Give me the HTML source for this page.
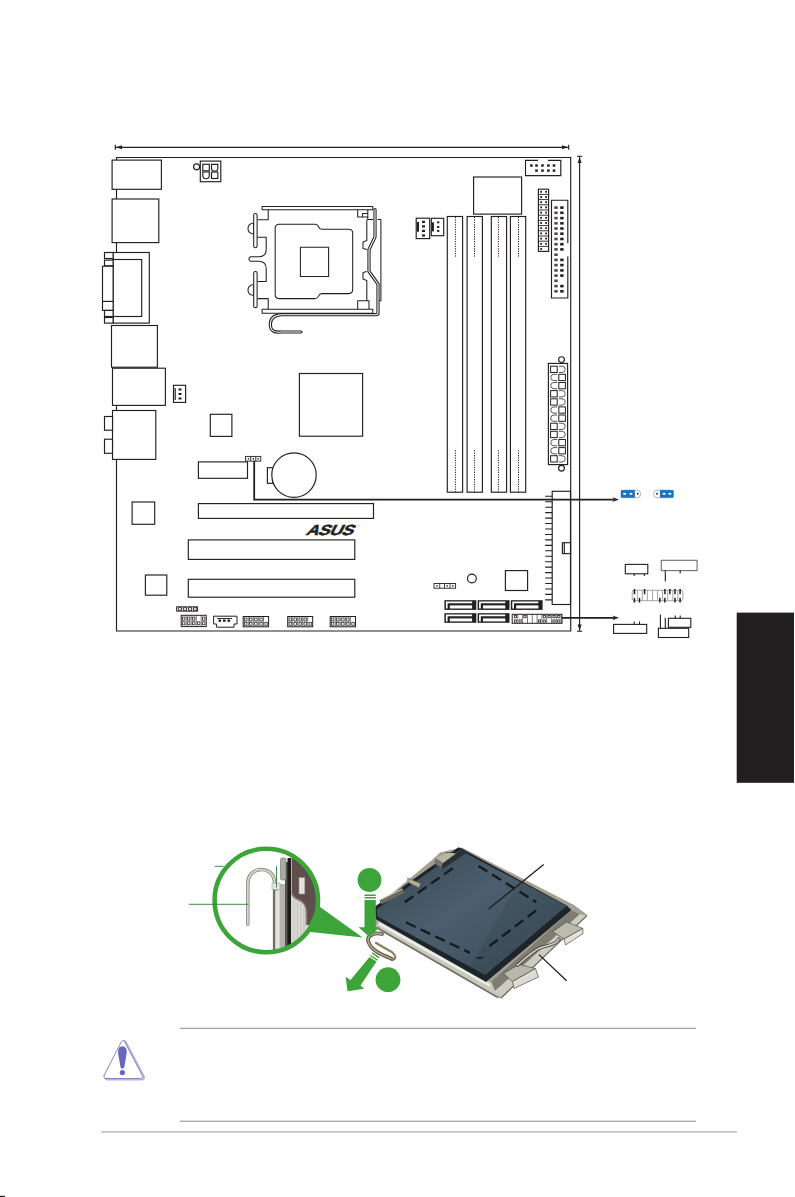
<!DOCTYPE html>
<html><head><meta charset="utf-8"><title>Motherboard layout</title>
<style>
html,body{margin:0;padding:0;background:#fff;}
body{width:795px;height:1197px;overflow:hidden;position:relative;font-family:"Liberation Sans",sans-serif;}
svg{position:absolute;left:0;top:0;display:block;}
</style></head><body>
<svg width="795" height="1197" viewBox="0 0 795 1197">
<g fill="none" stroke="#231f20" stroke-width="1.15">
<path d="M115.3 147.3H568.7M115.3 144.8V149.8M568.7 144.8V149.8"/>
<path d="M579.6 156.2V631.2M577 156.2H582.2M577 631.2H582.2"/>
</g>
<g fill="#231f20" stroke="none">
<path d="M116 147.3L122 145.3V149.3ZM568 147.3L562 145.3V149.3Z"/>
<path d="M579.6 157L577.6 163H581.6ZM579.6 630.5L577.6 624.5H581.6Z"/>
</g>
<g fill="#fff" stroke="#231f20" stroke-width="1.15">
<path fill="none" d="M116.5 160V157.5H570.7V631H116.5V459.4M116.5 189.3V199M116.5 242.6V252.5M116.5 405.4V410.5"/>
<rect x="112.1" y="160.1" width="49.3" height="29.2" />
<rect x="112.1" y="199.0" width="46.7" height="43.6" />
<rect x="113.1" y="252.5" width="36.2" height="70.6" />
<rect x="113.1" y="259.5" width="28.6" height="57.0" />
<rect x="104.5" y="252.5" width="8.6" height="6.0" />
<rect x="104.5" y="260.1" width="8.6" height="5.7" />
<rect x="102.5" y="266.2" width="10.6" height="44.2" />
<path d="M102.5 301.4H113.1"/>
<rect x="104.5" y="310.4" width="8.6" height="6.1" />
<rect x="104.5" y="317.5" width="8.6" height="5.6" />
<rect x="111.5" y="325.5" width="45.9" height="41.7" />
<rect x="112.5" y="368.2" width="52.9" height="37.2" />
<rect x="112.5" y="410.5" width="43.3" height="48.9" />
<rect x="104.5" y="416.5" width="8.0" height="13.7" />
<rect x="104.5" y="439.2" width="8.0" height="14.1" />
<rect x="210.3" y="414.3" width="21.6" height="22.1" />
<rect x="299.4" y="373.5" width="63.2" height="62.7" />
<rect x="132.1" y="502.0" width="22.6" height="22.3" />
<rect x="145.4" y="575.0" width="21.4" height="20.2" />
<rect x="473.6" y="177.0" width="48.0" height="37.1" />
<rect x="505.4" y="570.6" width="22.2" height="19.9" />
<rect x="198.4" y="461.9" width="49.1" height="16.4" />
<rect x="198.4" y="503.6" width="175.1" height="14.8" />
<rect x="188.3" y="539.9" width="166.5" height="19.5" />
<rect x="188.3" y="579.3" width="166.5" height="17.9" />
<rect x="447.3" y="216.5" width="15.3" height="275.7" />
<rect x="467.1" y="216.5" width="15.3" height="275.7" />
<rect x="491.3" y="216.5" width="15.3" height="275.7" />
<rect x="510.4" y="216.5" width="15.3" height="275.7" />
</g>
<g fill="none" stroke="#231f20" stroke-width="1" stroke-dasharray="1.2 1.2">
<path d="M455.4 217V257.6M455.4 450.2V492"/>
<path d="M474.5 217V257.6M474.5 450.2V492"/>
<path d="M498.4 217V257.6M498.4 450.2V492"/>
<path d="M518.5 217V257.6M518.5 450.2V492"/>
</g>
<g fill="#fff" stroke="#231f20" stroke-width="1.15">
<rect x="267.4" y="467.7" width="5.6" height="15.6" />
<circle cx="294" cy="475.1" r="22.2"/>
<circle cx="471.9" cy="578.5" r="4.4"/>
<circle cx="196.6" cy="166.8" r="3"/>
<rect x="200.3" y="161.1" width="20.5" height="20.6" />
<rect x="202.8" y="164.3" width="6.5" height="6.5" />
<rect x="211.5" y="172.0" width="6.3" height="6.5" />
<path d="M211.5 164.3H217.8V168a3.1 3.1 0 0 1-6.3 0Z"/>
<path d="M202.8 172H209.3V175.5a3.2 3.2 0 0 1-6.5 0Z"/>
<rect x="173.5" y="385.3" width="12.1" height="17.1" />
<rect x="416.2" y="218.2" width="13.5" height="20.4" />
<rect x="431.3" y="218.3" width="12.4" height="17.4" />
<path d="M538 160.4H525.5V175.6H560.8V160.4H548"/>
<rect x="538.4" y="189.2" width="10.2" height="62.2" />
<path d="M567.8 243.2V200.2H551.5V298H567.8V256.4"/>
<circle cx="561.5" cy="359.6" r="2.9"/>
<circle cx="561.5" cy="468.3" r="2.9"/>
<rect x="548.4" y="363.4" width="19.2" height="101.2" />
<rect x="552.2" y="491.3" width="18.3" height="113.2" />
<rect x="562.4" y="542.7" width="8.1" height="10.9" />
<path d="M564.3 542.7V553.6"/>
</g>
<g fill="none" stroke="#231f20" stroke-width="1.1">
<path d="M545.2 496.3H552.2M545.2 501.8H552.2M545.2 507.2H552.2M545.2 512.6H552.2M545.2 518.1H552.2M545.2 523.5H552.2M545.2 529.0H552.2M545.2 534.5H552.2M545.2 539.9H552.2M545.2 545.4H552.2M545.2 550.8H552.2M545.2 556.2H552.2M545.2 561.7H552.2M545.2 567.1H552.2M545.2 572.6H552.2M545.2 578.0H552.2M545.2 583.5H552.2M545.2 589.0H552.2M545.2 594.4H552.2M545.2 599.9H552.2"/>
</g>
<g fill="#fff" stroke="#231f20" stroke-width="1">
<rect x="550.6" y="366.2" width="6.6" height="6.3" />
<path stroke="#555" d="M558.8 366.2H562.1a3.15 3.15 0 0 1 0 6.3H558.8" />
<path stroke="#555" d="M557.2 374.3H553.9a3.15 3.15 0 0 0 0 6.3H557.2" />
<rect x="558.8" y="374.3" width="6.6" height="6.3" />
<path stroke="#555" d="M557.2 382.5H553.9a3.15 3.15 0 0 0 0 6.3H557.2" />
<rect x="558.8" y="382.5" width="6.6" height="6.3" />
<rect x="550.6" y="390.6" width="6.6" height="6.3" />
<path stroke="#555" d="M558.8 390.6H562.1a3.15 3.15 0 0 1 0 6.3H558.8" />
<rect x="550.6" y="398.8" width="6.6" height="6.3" />
<path stroke="#555" d="M558.8 398.8H562.1a3.15 3.15 0 0 1 0 6.3H558.8" />
<path stroke="#555" d="M557.2 406.9H553.9a3.15 3.15 0 0 0 0 6.3H557.2" />
<rect x="558.8" y="406.9" width="6.6" height="6.3" />
<path stroke="#555" d="M557.2 415.0H553.9a3.15 3.15 0 0 0 0 6.3H557.2" />
<rect x="558.8" y="415.0" width="6.6" height="6.3" />
<rect x="550.6" y="423.2" width="6.6" height="6.3" />
<path stroke="#555" d="M558.8 423.2H562.1a3.15 3.15 0 0 1 0 6.3H558.8" />
<rect x="550.6" y="431.3" width="6.6" height="6.3" />
<path stroke="#555" d="M558.8 431.3H562.1a3.15 3.15 0 0 1 0 6.3H558.8" />
<path stroke="#555" d="M557.2 439.5H553.9a3.15 3.15 0 0 0 0 6.3H557.2" />
<rect x="558.8" y="439.5" width="6.6" height="6.3" />
<path stroke="#555" d="M557.2 447.6H553.9a3.15 3.15 0 0 0 0 6.3H557.2" />
<rect x="558.8" y="447.6" width="6.6" height="6.3" />
<rect x="550.6" y="455.7" width="6.6" height="6.3" />
<path stroke="#555" d="M558.8 455.7H562.1a3.15 3.15 0 0 1 0 6.3H558.8" />
</g>
<g fill="#231f20" stroke="none">
<rect x="530.1" y="164.3" width="2.6" height="2.4" />
<rect x="535.2" y="164.3" width="2.6" height="2.4" />
<rect x="535.2" y="169.4" width="2.6" height="2.4" />
<rect x="541.2" y="164.3" width="2.6" height="2.4" />
<rect x="541.2" y="169.4" width="2.6" height="2.4" />
<rect x="547.1" y="164.3" width="2.6" height="2.4" />
<rect x="547.1" y="169.4" width="2.6" height="2.4" />
<rect x="552.7" y="164.3" width="2.6" height="2.4" />
<rect x="552.7" y="169.4" width="2.6" height="2.4" />
<rect x="554.3" y="206.3" width="3.4" height="2.6" fill="#4a4a4a"/>
<rect x="560.2" y="206.3" width="3.4" height="2.6" />
<rect x="554.3" y="211.5" width="3.4" height="2.6" fill="#4a4a4a"/>
<rect x="560.2" y="211.5" width="3.4" height="2.6" />
<rect x="554.3" y="216.8" width="3.4" height="2.6" fill="#4a4a4a"/>
<rect x="560.2" y="216.8" width="3.4" height="2.6" />
<rect x="554.3" y="222.0" width="3.4" height="2.6" fill="#4a4a4a"/>
<rect x="560.2" y="222.0" width="3.4" height="2.6" />
<rect x="554.3" y="227.2" width="3.4" height="2.6" fill="#4a4a4a"/>
<rect x="560.2" y="227.2" width="3.4" height="2.6" />
<rect x="554.3" y="232.4" width="3.4" height="2.6" fill="#4a4a4a"/>
<rect x="560.2" y="232.4" width="3.4" height="2.6" />
<rect x="554.3" y="237.7" width="3.4" height="2.6" fill="#4a4a4a"/>
<rect x="560.2" y="237.7" width="3.4" height="2.6" />
<rect x="554.3" y="242.9" width="3.4" height="2.6" fill="#4a4a4a"/>
<rect x="560.2" y="242.9" width="3.4" height="2.6" />
<rect x="554.3" y="248.1" width="3.4" height="2.6" fill="#4a4a4a"/>
<rect x="560.2" y="248.1" width="3.4" height="2.6" />
<rect x="554.3" y="253.4" width="3.4" height="2.6" fill="#4a4a4a"/>
<rect x="554.3" y="258.6" width="3.4" height="2.6" fill="#4a4a4a"/>
<rect x="560.2" y="258.6" width="3.4" height="2.6" />
<rect x="554.3" y="263.8" width="3.4" height="2.6" fill="#4a4a4a"/>
<rect x="560.2" y="263.8" width="3.4" height="2.6" />
<rect x="554.3" y="269.1" width="3.4" height="2.6" fill="#4a4a4a"/>
<rect x="560.2" y="269.1" width="3.4" height="2.6" />
<rect x="554.3" y="274.3" width="3.4" height="2.6" fill="#4a4a4a"/>
<rect x="560.2" y="274.3" width="3.4" height="2.6" />
<rect x="554.3" y="279.5" width="3.4" height="2.6" fill="#4a4a4a"/>
<rect x="554.3" y="284.8" width="3.4" height="2.6" fill="#4a4a4a"/>
<rect x="560.2" y="284.8" width="3.4" height="2.6" />
<rect x="554.3" y="290.0" width="3.4" height="2.6" fill="#4a4a4a"/>
<rect x="560.2" y="290.0" width="3.4" height="2.6" />
<rect x="422.0" y="220.8" width="3.0" height="2.2" />
<rect x="422.0" y="225.3" width="3.0" height="2.2" />
<rect x="422.0" y="229.8" width="3.0" height="2.2" />
<rect x="422.0" y="234.4" width="3.0" height="2.2" />
<rect x="416.8" y="222.0" width="2.2" height="9.7" />
<rect x="437.1" y="221.3" width="2.2" height="2.0" />
<rect x="437.1" y="226.0" width="2.2" height="2.0" />
<rect x="437.1" y="229.9" width="2.2" height="2.0" />
<rect x="431.7" y="222.3" width="2.2" height="9.1" />
<rect x="178.5" y="388.5" width="3.0" height="2.0" />
<rect x="178.5" y="393.0" width="3.0" height="2.0" />
<rect x="178.5" y="397.5" width="3.0" height="2.0" />
<rect x="174.6" y="388.0" width="1.2" height="12.0" />
</g>
<path d="M538.4 194.4H548.6M538.4 199.6H548.6M538.4 204.8H548.6M538.4 210.0H548.6M538.4 215.2H548.6M538.4 220.4H548.6M538.4 225.6H548.6M538.4 230.8H548.6M538.4 236.0H548.6M538.4 241.2H548.6M538.4 246.4H548.6" fill="none" stroke="#231f20" stroke-width="0.9"/>
<g fill="#231f20">
<rect x="540.2" y="190.9" width="1.8" height="1.8" />
<rect x="545.2" y="190.9" width="1.8" height="1.8" />
<rect x="540.2" y="196.1" width="1.8" height="1.8" />
<rect x="545.2" y="196.1" width="1.8" height="1.8" />
<rect x="540.2" y="201.3" width="1.8" height="1.8" />
<rect x="545.2" y="201.3" width="1.8" height="1.8" />
<rect x="540.2" y="206.5" width="1.8" height="1.8" />
<rect x="545.2" y="206.5" width="1.8" height="1.8" />
<rect x="540.2" y="211.7" width="1.8" height="1.8" />
<rect x="545.2" y="211.7" width="1.8" height="1.8" />
<rect x="540.2" y="216.9" width="1.8" height="1.8" />
<rect x="545.2" y="216.9" width="1.8" height="1.8" />
<rect x="540.2" y="222.1" width="1.8" height="1.8" />
<rect x="545.2" y="222.1" width="1.8" height="1.8" />
<rect x="540.2" y="227.3" width="1.8" height="1.8" />
<rect x="545.2" y="227.3" width="1.8" height="1.8" />
<rect x="540.2" y="232.5" width="1.8" height="1.8" />
<rect x="545.2" y="232.5" width="1.8" height="1.8" />
<rect x="540.2" y="237.7" width="1.8" height="1.8" />
<rect x="545.2" y="237.7" width="1.8" height="1.8" />
<rect x="540.2" y="242.9" width="1.8" height="1.8" />
<rect x="545.2" y="242.9" width="1.8" height="1.8" />
<rect x="540.2" y="248.1" width="1.8" height="1.8" />
</g>
<g fill="#fff" stroke="#231f20" stroke-width="1">
<rect x="181.2" y="615.3" width="25.0" height="11.3" />
</g><g fill="#fff" stroke="#231f20" stroke-width="0.75">
<path d="M186.2 615.3V626.6M191.2 615.3V626.6M196.2 615.3V626.6M201.2 615.3V626.6" stroke-width="0.6"/>
<rect x="182.5" y="617.1" width="2.4" height="3.0" />
<rect x="182.5" y="621.8" width="2.4" height="3.0" />
<rect x="187.5" y="617.1" width="2.4" height="3.0" />
<rect x="187.5" y="621.8" width="2.4" height="3.0" />
<rect x="192.5" y="617.1" width="2.4" height="3.0" />
<rect x="192.5" y="621.8" width="2.4" height="3.0" />
<rect x="197.5" y="621.8" width="2.4" height="3.0" />
<rect x="202.5" y="617.1" width="2.4" height="3.0" />
<rect x="202.5" y="621.8" width="2.4" height="3.0" />
</g>
<g fill="#fff" stroke="#231f20" stroke-width="1">
<rect x="243.2" y="616.5" width="25.4" height="10.3" />
</g><g fill="#fff" stroke="#231f20" stroke-width="0.75">
<path d="M248.3 616.5V626.8M253.4 616.5V626.8M258.4 616.5V626.8M263.5 616.5V626.8" stroke-width="0.6"/>
<rect x="244.5" y="618.0" width="2.4" height="3.0" />
<rect x="244.5" y="622.3" width="2.4" height="3.0" />
<rect x="249.6" y="618.0" width="2.4" height="3.0" />
<rect x="249.6" y="622.3" width="2.4" height="3.0" />
<rect x="254.7" y="618.0" width="2.4" height="3.0" />
<rect x="254.7" y="622.3" width="2.4" height="3.0" />
<rect x="259.8" y="618.0" width="2.4" height="3.0" />
<rect x="259.8" y="622.3" width="2.4" height="3.0" />
<rect x="264.9" y="622.3" width="2.4" height="3.0" />
</g>
<g fill="#fff" stroke="#231f20" stroke-width="1">
<rect x="287.7" y="616.5" width="25.0" height="10.3" />
</g><g fill="#fff" stroke="#231f20" stroke-width="0.75">
<path d="M292.7 616.5V626.8M297.7 616.5V626.8M302.7 616.5V626.8M307.7 616.5V626.8" stroke-width="0.6"/>
<rect x="289.0" y="618.0" width="2.4" height="3.0" />
<rect x="289.0" y="622.3" width="2.4" height="3.0" />
<rect x="294.0" y="618.0" width="2.4" height="3.0" />
<rect x="294.0" y="622.3" width="2.4" height="3.0" />
<rect x="299.0" y="618.0" width="2.4" height="3.0" />
<rect x="299.0" y="622.3" width="2.4" height="3.0" />
<rect x="304.0" y="618.0" width="2.4" height="3.0" />
<rect x="304.0" y="622.3" width="2.4" height="3.0" />
<rect x="309.0" y="622.3" width="2.4" height="3.0" />
</g>
<g fill="#fff" stroke="#231f20" stroke-width="1">
<rect x="330.2" y="616.5" width="25.3" height="10.3" />
</g><g fill="#fff" stroke="#231f20" stroke-width="0.75">
<path d="M335.3 616.5V626.8M340.3 616.5V626.8M345.4 616.5V626.8M350.4 616.5V626.8" stroke-width="0.6"/>
<rect x="331.5" y="618.0" width="2.4" height="3.0" />
<rect x="331.5" y="622.3" width="2.4" height="3.0" />
<rect x="336.6" y="618.0" width="2.4" height="3.0" />
<rect x="336.6" y="622.3" width="2.4" height="3.0" />
<rect x="341.7" y="618.0" width="2.4" height="3.0" />
<rect x="341.7" y="622.3" width="2.4" height="3.0" />
<rect x="346.7" y="618.0" width="2.4" height="3.0" />
<rect x="346.7" y="622.3" width="2.4" height="3.0" />
<rect x="351.8" y="622.3" width="2.4" height="3.0" />
</g>
<g fill="#fff" stroke="#231f20" stroke-width="0.9">
<rect x="176.6" y="606.8" width="21.0" height="4.4" />
<rect x="178.2" y="607.7" width="3.3" height="2.6" />
<rect x="183.3" y="607.7" width="3.3" height="2.6" />
<rect x="188.4" y="607.7" width="3.3" height="2.6" />
<rect x="193.5" y="607.7" width="3.3" height="2.6" />
<rect x="245.6" y="456.4" width="15.2" height="4.7" />
<path d="M250.7 456.4V461.1M255.8 456.4V461.1"/>
<rect x="434.0" y="583.5" width="21.6" height="4.7" />
</g>
<g fill="#231f20">
<rect x="247.8" y="458.1" width="1.4" height="1.4" />
<rect x="252.7" y="458.1" width="1.4" height="1.4" />
<rect x="257.6" y="458.1" width="1.4" height="1.4" />
<path d="M439.7 583.5V588.2M444.5 583.5V588.2M450 583.5V588.2" stroke="#231f20" stroke-width="0.8" fill="none"/>
<rect x="436.3" y="585.1" width="1.4" height="1.4" />
<rect x="446.5" y="585.1" width="1.4" height="1.4" />
<rect x="452.1" y="585.1" width="1.4" height="1.4" />
</g>
<g fill="#fff" stroke="#231f20" stroke-width="1">
<path d="M213.6 616.2H237V624H234V627.2H216.6V624H213.6Z"/>
</g><g fill="#231f20">
<rect x="218.5" y="619.5" width="2.6" height="2.3" />
<rect x="223.0" y="619.5" width="2.6" height="2.3" />
<rect x="227.5" y="619.5" width="2.6" height="2.3" />
<rect x="217.0" y="618.0" width="15.0" height="0.9" />
</g>
<rect x="444.4" y="600.2" width="31.9" height="9.7" fill="#231f20"/>
<path fill="#fff" d="M445.9 601.5H472.1V603.3H447.6V608.6H445.9Z"/>
<rect x="449.8" y="605.4" width="22.3" height="3.1" fill="#fff"/>
<rect x="477.6" y="600.2" width="31.9" height="9.7" fill="#231f20"/>
<path fill="#fff" d="M479.1 601.5H505.3V603.3H480.8V608.6H479.1Z"/>
<rect x="483.0" y="605.4" width="22.3" height="3.1" fill="#fff"/>
<rect x="510.8" y="600.2" width="31.8" height="9.7" fill="#231f20"/>
<path fill="#fff" d="M512.3 601.5H538.4V603.3H514.0V608.6H512.3Z"/>
<rect x="516.2" y="605.4" width="22.2" height="3.1" fill="#fff"/>
<rect x="444.4" y="613.2" width="31.9" height="9.6" fill="#231f20"/>
<path fill="#fff" d="M445.9 614.5H472.1V616.3H447.6V621.5H445.9Z"/>
<rect x="449.8" y="618.4" width="22.3" height="3.0" fill="#fff"/>
<rect x="477.6" y="613.2" width="31.9" height="9.6" fill="#231f20"/>
<path fill="#fff" d="M479.1 614.5H505.3V616.3H480.8V621.5H479.1Z"/>
<rect x="483.0" y="618.4" width="22.3" height="3.0" fill="#fff"/>
<g fill="#fff" stroke="#231f20" stroke-width="1">
<rect x="512.2" y="614.3" width="49.8" height="9.0" />
</g><g fill="#fff" stroke="#231f20" stroke-width="0.8">
<path d="M517.8 614.3V623.3" stroke-width="0.6"/>
<rect x="514.3" y="615.5" width="2.2" height="2.2" />
<rect x="514.3" y="619.9" width="2.2" height="2.2" />
<path d="M522.6 614.3V623.3" stroke-width="0.6"/>
<rect x="519.1" y="619.9" width="2.2" height="2.2" />
<path d="M527.5 614.3V623.3" stroke-width="0.6"/>
<rect x="523.9" y="615.5" width="2.2" height="2.2" />
<path d="M532.3 614.3V623.3" stroke-width="0.6"/>
<path d="M537.1 614.3V623.3" stroke-width="0.6"/>
<path d="M541.9 614.3V623.3" stroke-width="0.6"/>
<rect x="538.4" y="619.9" width="2.2" height="2.2" />
<path d="M546.7 614.3V623.3" stroke-width="0.6"/>
<rect x="543.2" y="615.5" width="2.2" height="2.2" />
<rect x="543.2" y="619.9" width="2.2" height="2.2" />
<path d="M551.6 614.3V623.3" stroke-width="0.6"/>
<rect x="548.0" y="615.5" width="2.2" height="2.2" />
<path d="M556.4 614.3V623.3" stroke-width="0.6"/>
<rect x="552.9" y="615.5" width="2.2" height="2.2" />
<rect x="552.9" y="619.9" width="2.2" height="2.2" />
<path d="M561.2 614.3V623.3" stroke-width="0.6"/>
<rect x="557.7" y="615.5" width="2.2" height="2.2" />
<rect x="557.7" y="619.9" width="2.2" height="2.2" />
</g>
<g fill="none" stroke="#231f20" stroke-width="1.8">
<path d="M254.2 461.1V499.6H614"/>
<path d="M562 617.8H614"/>
</g><g fill="#231f20">
<path d="M619 499.6L612.4 497.2L614.4 499.6L612.4 502Z"/>
<path d="M619 617.8L612.4 615.4L614.4 617.8L612.4 620.2Z"/>
</g>
<g>
<rect x="620.9" y="490.1" width="19.7" height="7.6" rx="3.6" fill="#fff" stroke="#8a939c" stroke-width="0.7"/>
<rect x="620.9" y="490.1" width="14.0" height="7.6" fill="#1f72b8"/>
<rect x="623.3" y="492.9" width="2.7" height="1.8" fill="#fff"/>
<rect x="629.6" y="492.9" width="2.7" height="1.8" fill="#fff"/>
<rect x="636.9" y="493.0" width="1.6" height="1.6" fill="#231f20"/>
<rect x="653.6" y="490.1" width="20" height="7.6" rx="3.6" fill="#fff" stroke="#8a939c" stroke-width="0.7"/>
<rect x="660.0" y="490.1" width="13.6" height="7.6" fill="#1f72b8"/>
<rect x="662.7" y="492.9" width="2.7" height="1.8" fill="#fff"/>
<rect x="668.5" y="492.9" width="2.7" height="1.8" fill="#fff"/>
<rect x="656.2" y="493.0" width="1.6" height="1.6" fill="#231f20"/>
</g>
<g fill="#fff" stroke="#231f20" stroke-width="1.1">
<rect x="625.3" y="564.4" width="22.5" height="9.4" />
<path d="M634.2 573.8V576M644.3 573.8V576"/>
<rect x="661.3" y="560.3" width="35.8" height="10.3" stroke="#6d6e71"/>
<path d="M665.3 570.6V581.4M680.2 570.6V573.5"/>
<rect x="613.6" y="624.4" width="33.1" height="9.0" />
<path d="M634.2 621.4V624.4M639.5 621.4V624.4"/>
<path d="M660.4 614.5V628.3M665.3 618V628.3M675.3 615.4V618.3M680.2 615.4V618.3"/>
<rect x="668.4" y="618.3" width="22.4" height="9.0" />
<rect x="658.4" y="628.3" width="30.3" height="9.2" />
</g>
<g fill="#fff" stroke="#8c8e91" stroke-width="0.8">
<rect x="632.2" y="590.3" width="50.7" height="10.4" rx="2.2"/>
<path d="M637.3 590.3V600.7"/>
<path d="M642.3 590.3V600.7"/>
<path d="M647.4 590.3V600.7"/>
<path d="M652.5 590.3V600.7"/>
<path d="M657.6 590.3V600.7"/>
<path d="M662.6 590.3V600.7"/>
<path d="M667.7 590.3V600.7"/>
<path d="M672.8 590.3V600.7"/>
<path d="M677.8 590.3V600.7"/>
</g><g fill="none" stroke="#231f20" stroke-width="1.5">
<path d="M634.4 589V594.3"/>
<path d="M634.4 597.8V602.6"/>
<path d="M639.5 597.8V602.6"/>
<path d="M644.6 589V594.3"/>
<path d="M659.8 597.8V602.6"/>
<path d="M664.9 589V594.3"/>
<path d="M664.9 597.8V602.6"/>
<path d="M669.9 589V594.3"/>
<path d="M675.0 589V594.3"/>
<path d="M675.0 597.8V602.6"/>
<path d="M680.1 589V594.3"/>
<path d="M680.1 597.8V602.6"/>
</g>
<rect x="736.7" y="612.6" width="57.3" height="170.2" fill="#231f20"/>
<rect x="0.0" y="1195.8" width="5.0" height="1.2" fill="#231f20"/>
<path d="M180 1028.3H696" stroke="#8c8c8c" stroke-width="1" fill="none"/>
<path d="M180 1121.2H696" stroke="#8c8c8c" stroke-width="1" fill="none"/>
<path d="M101.2 1131.8H737" stroke="#c6c6c6" stroke-width="1.8" fill="none"/>
<g>
<path d="M121.5 1041.5L104 1075.5Q103 1078.3 106 1078.5H140.5Q143.5 1078.3 142.3 1075.5L124.5 1041.5Q123 1039.3 121.5 1041.5Z" fill="#fff" stroke="#b9b6e0" stroke-width="2.2" transform="translate(1.3,0.8)"/>
<path d="M121.5 1041.5L104 1075.5Q103 1078.3 106 1078.5H140.5Q143.5 1078.3 142.3 1075.5L124.5 1041.5Q123 1039.3 121.5 1041.5Z" fill="#fff" stroke="#7d79b8" stroke-width="0.9"/>
<path d="M122.4 1046.2c-3.3 0-4.6 3.2-4.3 7l2.400 13.800c.4 2 3.400 2 3.800 0l2.400-13.800c.3-3.800-1-7-4.300-7Z" fill="#6a66bb"/>
<circle cx="122.400" cy="1072.500" r="2.600" fill="#6a66bb"/>
</g>
<g fill="none" stroke="#231f20" stroke-width="1.05" stroke-linejoin="round">
<!-- far right line -->
<path d="M377.500 219.500H380.900V300.700H377.500"/>
<!-- frame body left -->
<path d="M268.200 209.700V219.700H257.500M257.500 237.300H266.200V249.500Q266.200 256.200 259.500 256.800H250.500Q247.300 259 250.500 261.300H259.500Q266.200 262 266.200 268.500V281.500H257.500M257.500 298.600H268.200V309.300"/>
<!-- right side -->
<path d="M367.800 209.700V219.500H373M366.800 219.500V240.500L363 242V248.500L367 249.500M366.800 271.500L363 272.500V279L366.800 280.500V300.700M357.700 209.700V217H367.800M362.500 217V213.500H367.800M357.700 309.300V300.700H369V309.300"/>
<!-- top/bottom bars -->
<rect x="262.100" y="206.500" width="110.700" height="3.200" fill="#fff"/>
<rect x="262.100" y="309.300" width="110.700" height="4" fill="#fff"/>
<!-- left pins -->
<path fill="#fff" d="M253.700 223C249.500 223.500 248 226 248 228.500S249.500 233.500 253.700 234Z"/>
<path fill="#fff" d="M253.700 284.600C249.500 285.100 248 287.600 248 290.100S249.500 295.100 253.700 295.600Z"/>
<rect x="253.700" y="213.500" width="3.400" height="34.200" rx="1.700" fill="#fff"/>
<rect x="253.700" y="271.500" width="3.400" height="36.200" rx="1.700" fill="#fff"/>
<!-- inner socket -->
<path d="M279.200 224.200H315Q317.500 224.200 318.500 226.700T322 229.200H348.700Q352.700 229.200 352.700 233.200V289.600Q352.700 293.600 348.700 293.600H322Q319.500 293.600 318.500 296.100T315 298.600H279.200Q275.200 298.600 275.200 294.600V228.200Q275.200 224.200 279.200 224.200Z"/>
<rect x="300.400" y="247.300" width="28.200" height="29.200"/>
</g>
<!-- lever -->
<g fill="none" stroke-linejoin="round" stroke-linecap="round">
<path d="M375 209.500V237L369 249.500V271.500L378 284V313Q378 314.700 376 314.700H281.500Q270.300 315.500 270.300 324.500T281.500 332H301" stroke="#231f20" stroke-width="3.200"/>
<path d="M375 209.500V237L369 249.500V271.500L378 284V313Q378 314.700 376 314.700H281.500Q270.300 315.500 270.300 324.500T281.500 332H301" stroke="#fff" stroke-width="1.100"/>
</g>

<g transform="translate(305.2,535.3) skewX(-28) scale(1.2,1)"><text x="0" y="0" font-family="Liberation Sans, sans-serif" font-weight="bold" font-size="14.600" letter-spacing="-0.4" fill="#231f20" stroke="#231f20" stroke-width="0.5">ASUS</text></g>
<text x="358" y="527" font-family="Liberation Sans, sans-serif" font-size="2.500" fill="#231f20">®</text>
<defs>
<clipPath id="lens"><circle cx="266.300" cy="900.500" r="51.500"/></clipPath>
<linearGradient id="cov" x1="0" y1="0" x2="1" y2="1">
<stop offset="0" stop-color="#384651"/><stop offset="0.450" stop-color="#4c5e6d"/><stop offset="0.700" stop-color="#435462"/><stop offset="1" stop-color="#34414c"/>
</linearGradient>
<linearGradient id="met" x1="0" y1="0" x2="0" y2="1">
<stop offset="0" stop-color="#d8d6cc"/><stop offset="1" stop-color="#8f8d80"/>
</linearGradient>
</defs>
<!-- lens inset -->
<g clip-path="url(#lens)">
<rect x="210" y="845" width="115" height="112" fill="#fff"/>
<path d="M290.500 858H325V957H290.500Z" fill="#d9d9d2"/>
<path d="M294 900V957M297.500 902V957M301 904V957M304 908V957" stroke="#c4c4bc" stroke-width="1" fill="none"/>
<path d="M291.700 856H325V925H306.400V912C306.400 905 302 901.500 299.800 900.500C296 899 292.500 897 291.700 893Z" fill="#5e4e4c"/>
<path d="M291.700 893C292.500 897 296 899 299.800 900.500C302 901.500 306.400 905 306.400 912V925" fill="none" stroke="#8b8078" stroke-width="1.600"/>
<rect x="299" y="877.600" width="5.800" height="16.400" fill="#e4e2da" stroke="#9b948a" stroke-width="0.600"/>
<rect x="272.900" y="889" width="2.600" height="70" fill="#6d6d68"/>
<rect x="275.500" y="889" width="4" height="70" fill="#e2e2dc"/>
<rect x="279.500" y="884" width="5.500" height="75" fill="#b4b4ac"/>
<rect x="285" y="862" width="3" height="97" fill="#55554f"/>
<rect x="287.500" y="858" width="3.500" height="100" fill="#1d1b1a"/>
<rect x="280.500" y="858" width="5.500" height="22" rx="1.500" fill="#a9aaa2" stroke="#6f706a" stroke-width="0.600"/>
<path d="M247.800 924.200V884C247.800 866 270 866 273.700 877.600L276 889" fill="none" stroke="#8d8d86" stroke-width="3.600" stroke-linecap="round"/>
<path d="M247.800 924.200V884C247.800 866 270 866 273.700 877.600L276 889" fill="none" stroke="#d6d6d0" stroke-width="1.800" stroke-linecap="round"/>
<rect x="272" y="883" width="8" height="6.500" fill="#e6e8de" stroke="#9aa08f" stroke-width="0.600"/>
</g>
<!-- pointer -->
<path d="M318 905.500L362.600 937.500L306 931.500Z" fill="#3da43a"/>
<circle cx="266.300" cy="900.500" r="51.700" fill="none" stroke="#3da43a" stroke-width="4.600"/>
<g stroke="#2f7a33" stroke-width="0.900" fill="none">
<path d="M214.800 866.300H223.800M188.800 904.300H248.300M276.500 866.300V887.400"/>
</g>
<!-- socket frame -->
<path d="M374 918L378 905L432 860L440 852.500L462 847.500L574 905L587.500 915L501.500 998.500L497 998L374 927Z" fill="#a3a092"/>
<path d="M378.300 919.500L492 983L501 989L497 996.500L376 927Z" fill="#c9c8be"/>
<path d="M379 923.600L490 985.700" stroke="#eeeee8" stroke-width="2.600" fill="none"/>
<path d="M376.500 927.500L497 996.800" stroke="#716f62" stroke-width="1.500" fill="none"/>
<!-- dark edge under cover -->
<path d="M458.500 847.300L373.800 907.200L376.300 919.500L486 982L571.400 910L566.700 905.500L461 848.300Z" fill="#1d252a"/>
<!-- cover -->
<path d="M459.700 850.100L376.800 909.500L377.500 916.500L485.300 975L566.600 906Z" fill="url(#cov)"/>
<path d="M520 880L566.600 906L485.300 975L470 966Z" fill="#2f3b43" opacity="0.180"/>
<path d="M404.700 902.200L453.900 867.500M478.500 866L536.400 902.200M406.200 922.500L469.800 952.800M536 910.500L484.300 950" fill="none" stroke="#131c22" stroke-width="2.400" stroke-dasharray="10.500 5.600"/>
<path d="M474 957.500L485 956.500L480 959.500Z" fill="#1d252a"/>
<!-- left tabs -->
<path d="M433 866L447 852L457 852.500L462.500 849L468 852L444 868Z" fill="#2a3238"/>
<path d="M435.700 857.900L448 852.600L456 853.500L442.800 863.200Z" fill="#b9b5a2"/>
<path d="M435.700 857.900L442.800 863.200L441 868L434 863Z" fill="#77756a"/>
<path d="M407.500 878.100L420.700 883.400L419 887.800L408.400 882.500Z" fill="#b4ae94" stroke="#5d5a4e" stroke-width="0.600"/>
<path d="M379.400 900.200L402.300 888.700L404 893.100L381.100 904.600Z" fill="#6d6b60"/>
<path d="M379.400 900.200L402.300 888.700" stroke="#c9c6b4" stroke-width="1.200" fill="none"/>
<!-- right tabs -->
<path d="M571.400 910.400L491.300 981.600L495 991L580 914Z" fill="#7f7d72"/>
<path d="M580 914L495 991L501 998L587 915.500Z" fill="#cdccc2"/>
<path d="M501 998L587 915.500" stroke="#6f6d62" stroke-width="1.200" fill="none"/>
<g stroke="#4f4d44" stroke-width="0.700" stroke-linejoin="round">
<path d="M552.600 931.700L566.500 921.900L582.800 928.400L564 939Z" fill="#bcbbb0"/>
<path d="M564 939L582.800 928.400L583 933.500L565.500 945Z" fill="#e3e2db"/>
<path d="M503.500 973.400L519 964.400L535.400 968.500L512.500 981.600Z" fill="#b9b8ad"/>
<path d="M512.500 981.600L535.400 968.500L538.500 977L514 988.500Z" fill="#dddcd4"/>
</g>
<path d="M559 939C557.500 943 550 945.500 542 947.200C536 949 532 953 528.900 955.400C524 959 521 962 517.400 965.200" stroke="#4b4940" stroke-width="3.400" fill="none" stroke-linecap="round"/>
<path d="M559 939C557.500 943 550 945.500 542 947.200C536 949 532 953 528.900 955.400C524 959 521 962 517.400 965.200" stroke="#d5d4ca" stroke-width="1.600" fill="none" stroke-linecap="round"/>
<!-- lever hook -->
<path d="M382 934C374 932 366 936 368.500 942C371 950 380 954 392 959" fill="none" stroke="#5d5443" stroke-width="3.800" stroke-linecap="round"/>
<path d="M382 934C374 932 366 936 368.500 942C371 950 380 954 392 959" fill="none" stroke="#b5aa90" stroke-width="1.600" stroke-linecap="round"/>
<path d="M392 959C397 961 396 954 390 951L376 943" fill="none" stroke="#8c7d60" stroke-width="2.200" stroke-linecap="round"/>
<!-- green markers -->
<g fill="#3da43a">
<circle cx="369.500" cy="880" r="11.900"/>
<circle cx="388" cy="979.700" r="12.400"/>
<path d="M364.500 900H375.800V927.200H379.600L369.400 937L358.600 927.200H364.500Z"/>
<path d="M364.500 894.600H375.800V896H364.500ZM364.500 897H375.800V898.600H364.500Z"/>
<path d="M369.500 957L376.500 961.600L360.500 985.500L364.200 988.800L347.500 991.200L345.700 976.800L350.500 980Z"/>
<path d="M372.500 952.300L379.600 957L378.800 958.200L371.700 953.500ZM370.800 954.900L377.900 959.600L377.200 960.700L370.100 956Z"/>
</g>
<!-- leader lines -->
<g stroke="#231f20" stroke-width="1.300" fill="none">
<path d="M543.700 864.600L488.500 909M539 954.600L566.600 980.700"/>
</g>

</svg>
</body></html>
